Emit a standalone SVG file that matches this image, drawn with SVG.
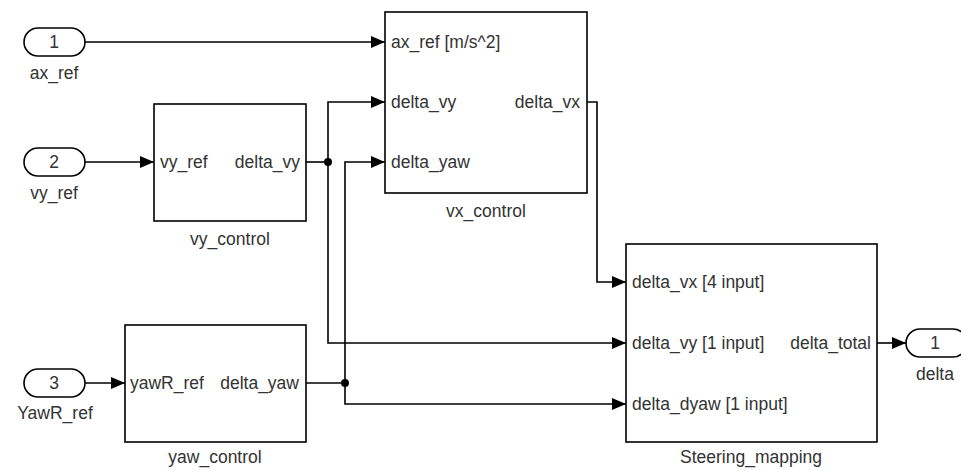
<svg xmlns="http://www.w3.org/2000/svg" width="961" height="470" viewBox="0 0 961 470">
<defs>
<style>
text{font-family:"Liberation Sans",Arial,sans-serif;font-size:17.5px;fill:#333}
.c{text-anchor:middle}
.e{text-anchor:end}
.blk{fill:#fff;stroke:#000;stroke-width:1.6}
.pill{fill:#fff;stroke:#000;stroke-width:1.6}
.w{fill:none;stroke:#000;stroke-width:1.6}
.dot{fill:#000}
</style>
<marker id="ah" markerWidth="14" markerHeight="12" viewBox="0 0 14 12" refX="14" refY="6" orient="auto" markerUnits="userSpaceOnUse">
<path d="M0,0 L14,6 L0,12 Z" fill="#000"/>
</marker>
</defs>
<rect width="961" height="470" fill="#fff"/>
<g id="connectors">
<path class="w" d="M85,42 H385" marker-end="url(#ah)"/>
<path class="w" d="M85,162 H154" marker-end="url(#ah)"/>
<path class="w" d="M85,383 H125" marker-end="url(#ah)"/>
<path class="w" d="M306,162 H328"/>
<path class="w" d="M328,162 V102 H385" marker-end="url(#ah)"/>
<path class="w" d="M328,162 V343 H626" marker-end="url(#ah)"/>
<path class="w" d="M306,383 H345"/>
<path class="w" d="M345,383 V162 H385" marker-end="url(#ah)"/>
<path class="w" d="M345,383 V404 H626" marker-end="url(#ah)"/>
<path class="w" d="M587,102 H597 V282 H626" marker-end="url(#ah)"/>
<path class="w" d="M877,343 H906" marker-end="url(#ah)"/>
<circle class="dot" cx="328" cy="162" r="4"/>
<circle class="dot" cx="345" cy="383" r="4"/>
</g>
<g id="in1">
<rect class="pill" x="24" y="28" width="61" height="28" rx="14"/>
<text class="c" x="54" y="48">1</text>
<text class="c" x="54" y="79">ax_ref</text>
</g>
<g id="in2">
<rect class="pill" x="24" y="148" width="61" height="28" rx="14"/>
<text class="c" x="54" y="168">2</text>
<text class="c" x="54" y="199">vy_ref</text>
</g>
<g id="in3">
<rect class="pill" x="24" y="369" width="61" height="28" rx="14"/>
<text class="c" x="54" y="389">3</text>
<text class="c" x="55" y="419">YawR_ref</text>
</g>
<g id="vy_control">
<rect class="blk" x="154" y="104" width="152" height="117"/>
<text x="160" y="168">vy_ref</text>
<text class="e" x="300" y="168">delta_vy</text>
<text class="c" x="230" y="245">vy_control</text>
</g>
<g id="vx_control">
<rect class="blk" x="385" y="12" width="202" height="181"/>
<text x="391" y="48">ax_ref [m/s^2]</text>
<text x="391" y="108">delta_vy</text>
<text x="391" y="168">delta_yaw</text>
<text class="e" x="580" y="108">delta_vx</text>
<text class="c" x="486" y="217">vx_control</text>
</g>
<g id="yaw_control">
<rect class="blk" x="125" y="325" width="181" height="117"/>
<text x="130" y="389">yawR_ref</text>
<text class="e" x="299" y="389">delta_yaw</text>
<text class="c" x="215" y="463">yaw_control</text>
</g>
<g id="Steering_mapping">
<rect class="blk" x="626" y="244" width="251" height="198"/>
<text x="632" y="288">delta_vx [4 input]</text>
<text x="632" y="349">delta_vy [1 input]</text>
<text class="e" x="871" y="349">delta_total</text>
<text x="632" y="410">delta_dyaw [1 input]</text>
<text class="c" x="751" y="463">Steering_mapping</text>
</g>
<g id="out1">
<rect class="pill" x="906" y="329" width="61" height="28" rx="14"/>
<text class="c" x="935" y="349">1</text>
<text class="c" x="935" y="380">delta</text>
</g>
</svg>
